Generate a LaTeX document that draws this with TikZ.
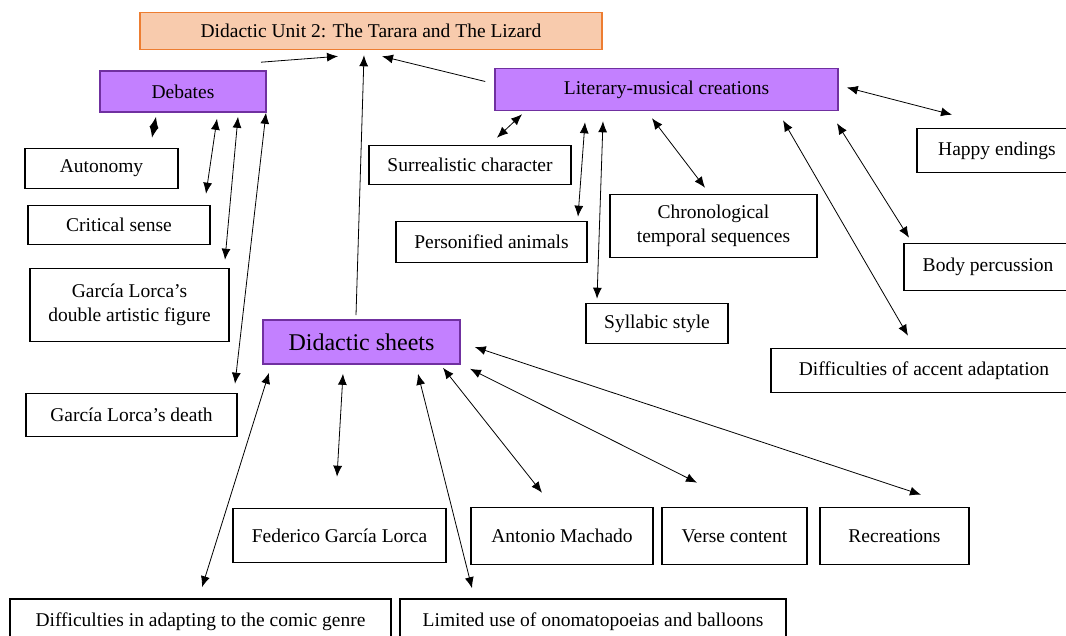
\documentclass[tikz,border=0pt]{standalone}
\usepackage{fontspec}
\setmainfont{Liberation Serif}
\usetikzlibrary{arrows.meta,calc}

\definecolor{hubfill}{RGB}{195,128,255}
\definecolor{hubline}{RGB}{112,48,160}
\definecolor{topfill}{RGB}{248,203,173}
\definecolor{topline}{RGB}{237,125,49}

\begin{document}
\begin{tikzpicture}[x=1pt, y=-1pt, >={Latex[length=11pt,width=9pt]},
  box/.style={draw=black, line width=1.6pt, fill=white, inner sep=0pt, align=center,
      font=\fontsize{19.5}{24}\selectfont},
  hub/.style={box, draw=hubline, fill=hubfill},
  one/.style={->, line width=0.8pt},
  both/.style={<->, line width=0.8pt}]

  \useasboundingbox (0,0) rectangle (1066,635);
  \fill[white] (0,0) rectangle (1066,635);

  % main topic and the three hubs
  \node[box, draw=topline, fill=topfill, minimum width=462pt, minimum height=37pt] (title) at (371,31) {Didactic Unit 2: The Tarara and The Lizard};
  \node[hub, minimum width=166pt, minimum height=41pt] (deb) at (183,91.5) {Debates};
  \node[hub, minimum width=343pt, minimum height=42pt] (lit) at (666.5,89.5) {Literary-musical creations};
  \node[hub, minimum width=197pt, minimum height=44pt, font=\fontsize{24}{28}\selectfont] (sheets) at (361.5,342) {Didactic sheets};

  % debates
  \node[box, minimum width=153pt, minimum height=40pt] (aut) at (101.5,168.5) {Autonomy};
  \node[box, minimum width=182pt, minimum height=39pt] (crit) at (119,225) {Critical sense};
  \node[box, minimum width=199pt, minimum height=73pt] (fig) at (129.5,305) {García Lorca’s\\double artistic figure};
  \node[box, minimum width=211pt, minimum height=43pt] (death) at (131.5,415) {García Lorca’s death};

  % literary-musical creations
  \node[box, minimum width=202pt, minimum height=39pt] (sur) at (470,165) {Surrealistic character};
  \node[box, minimum width=191pt, minimum height=41pt] (pers) at (491.5,242) {Personified animals};
  \node[box, minimum width=207pt, minimum height=63pt] (chron) at (713.5,226) {Chronological\\temporal sequences};
  \node[box, minimum width=142pt, minimum height=40pt] (syl) at (657,323.5) {Syllabic style};
  \node[box, minimum width=160pt, minimum height=44pt] (happy) at (997,150.5) {Happy endings};
  \node[box, minimum width=168pt, minimum height=47pt] (body) at (988,267) {Body percussion};
  \node[box, minimum width=306pt, minimum height=44pt] (acc) at (924,370.5) {Difficulties of accent adaptation};

  % didactic sheets
  \node[box, minimum width=213pt, minimum height=54pt] (fed) at (339.5,535.5) {Federico García Lorca};
  \node[box, minimum width=182pt, minimum height=57pt] (ant) at (562,536) {Antonio Machado};
  \node[box, minimum width=145pt, minimum height=57pt] (verse) at (734.5,536) {Verse content};
  \node[box, minimum width=149pt, minimum height=57pt] (rec) at (894.5,536) {Recreations};
  \node[box, minimum width=381pt, minimum height=46pt] (comic) at (200.5,622) {Difficulties in adapting to the comic genre};
  \node[box, minimum width=386pt, minimum height=46pt] (lim) at (593,622) {Limited use of onomatopoeias and balloons};

  % up to the unit
  \draw[one] ($(deb.north)+(78,-8)$) -- ($(title.south)+(-33,6)$);
  \draw[one] ($(sheets.north)+(-5.5,-4)$) -- ($(title.south)+(-7,5)$);
  \draw[one] ($(lit.west)+(-9,-8)$) -- ($(title.south)+(11,6)$);

  \foreach \n/\sx/\sy/\ex/\ey in {aut/-27/4/50.5/-10, crit/34/6/87/-11,
      fig/55/4/95.5/-8, death/83/0/103.5/-9}
    \draw[both] ($(deb.south)+(\sx,\sy)$) -- ($(\n.north)+(\ex,\ey)$);

  \foreach \n/\sx/\sy/\ex/\ey in {sur/-144.5/3/27/-7, pers/-81.5/11/86.5/-4,
      syl/-63.5/10/-60/-4, chron/-14.5/7/-8.5/-6, acc/116.5/9/-16/-12,
      body/170.5/12/-79/-5}
    \draw[both] ($(lit.south)+(\sx,\sy)$) -- ($(\n.north)+(\ex,\ey)$);
  \draw[both] ($(lit.east)+(8,-2)$) -- ($(happy.north)+(-45,-13)$);

  \foreach \n/\sx/\sy/\ex/\ey in {comic/-92.5/8/1.5/-11, fed/-18.5/9/-2.5/-31,
      lim/56.5/9/-121/-10, ant/81.5/3/-20/-14, verse/108.5/4/-37.5/-24}
    \draw[both] ($(sheets.south)+(\sx,\sy)$) -- ($(\n.north)+(\ex,\ey)$);
  \draw[both] ($(sheets.east)+(14,5)$) -- ($(rec.north)+(26.5,-12)$);

\end{tikzpicture}
\end{document}
